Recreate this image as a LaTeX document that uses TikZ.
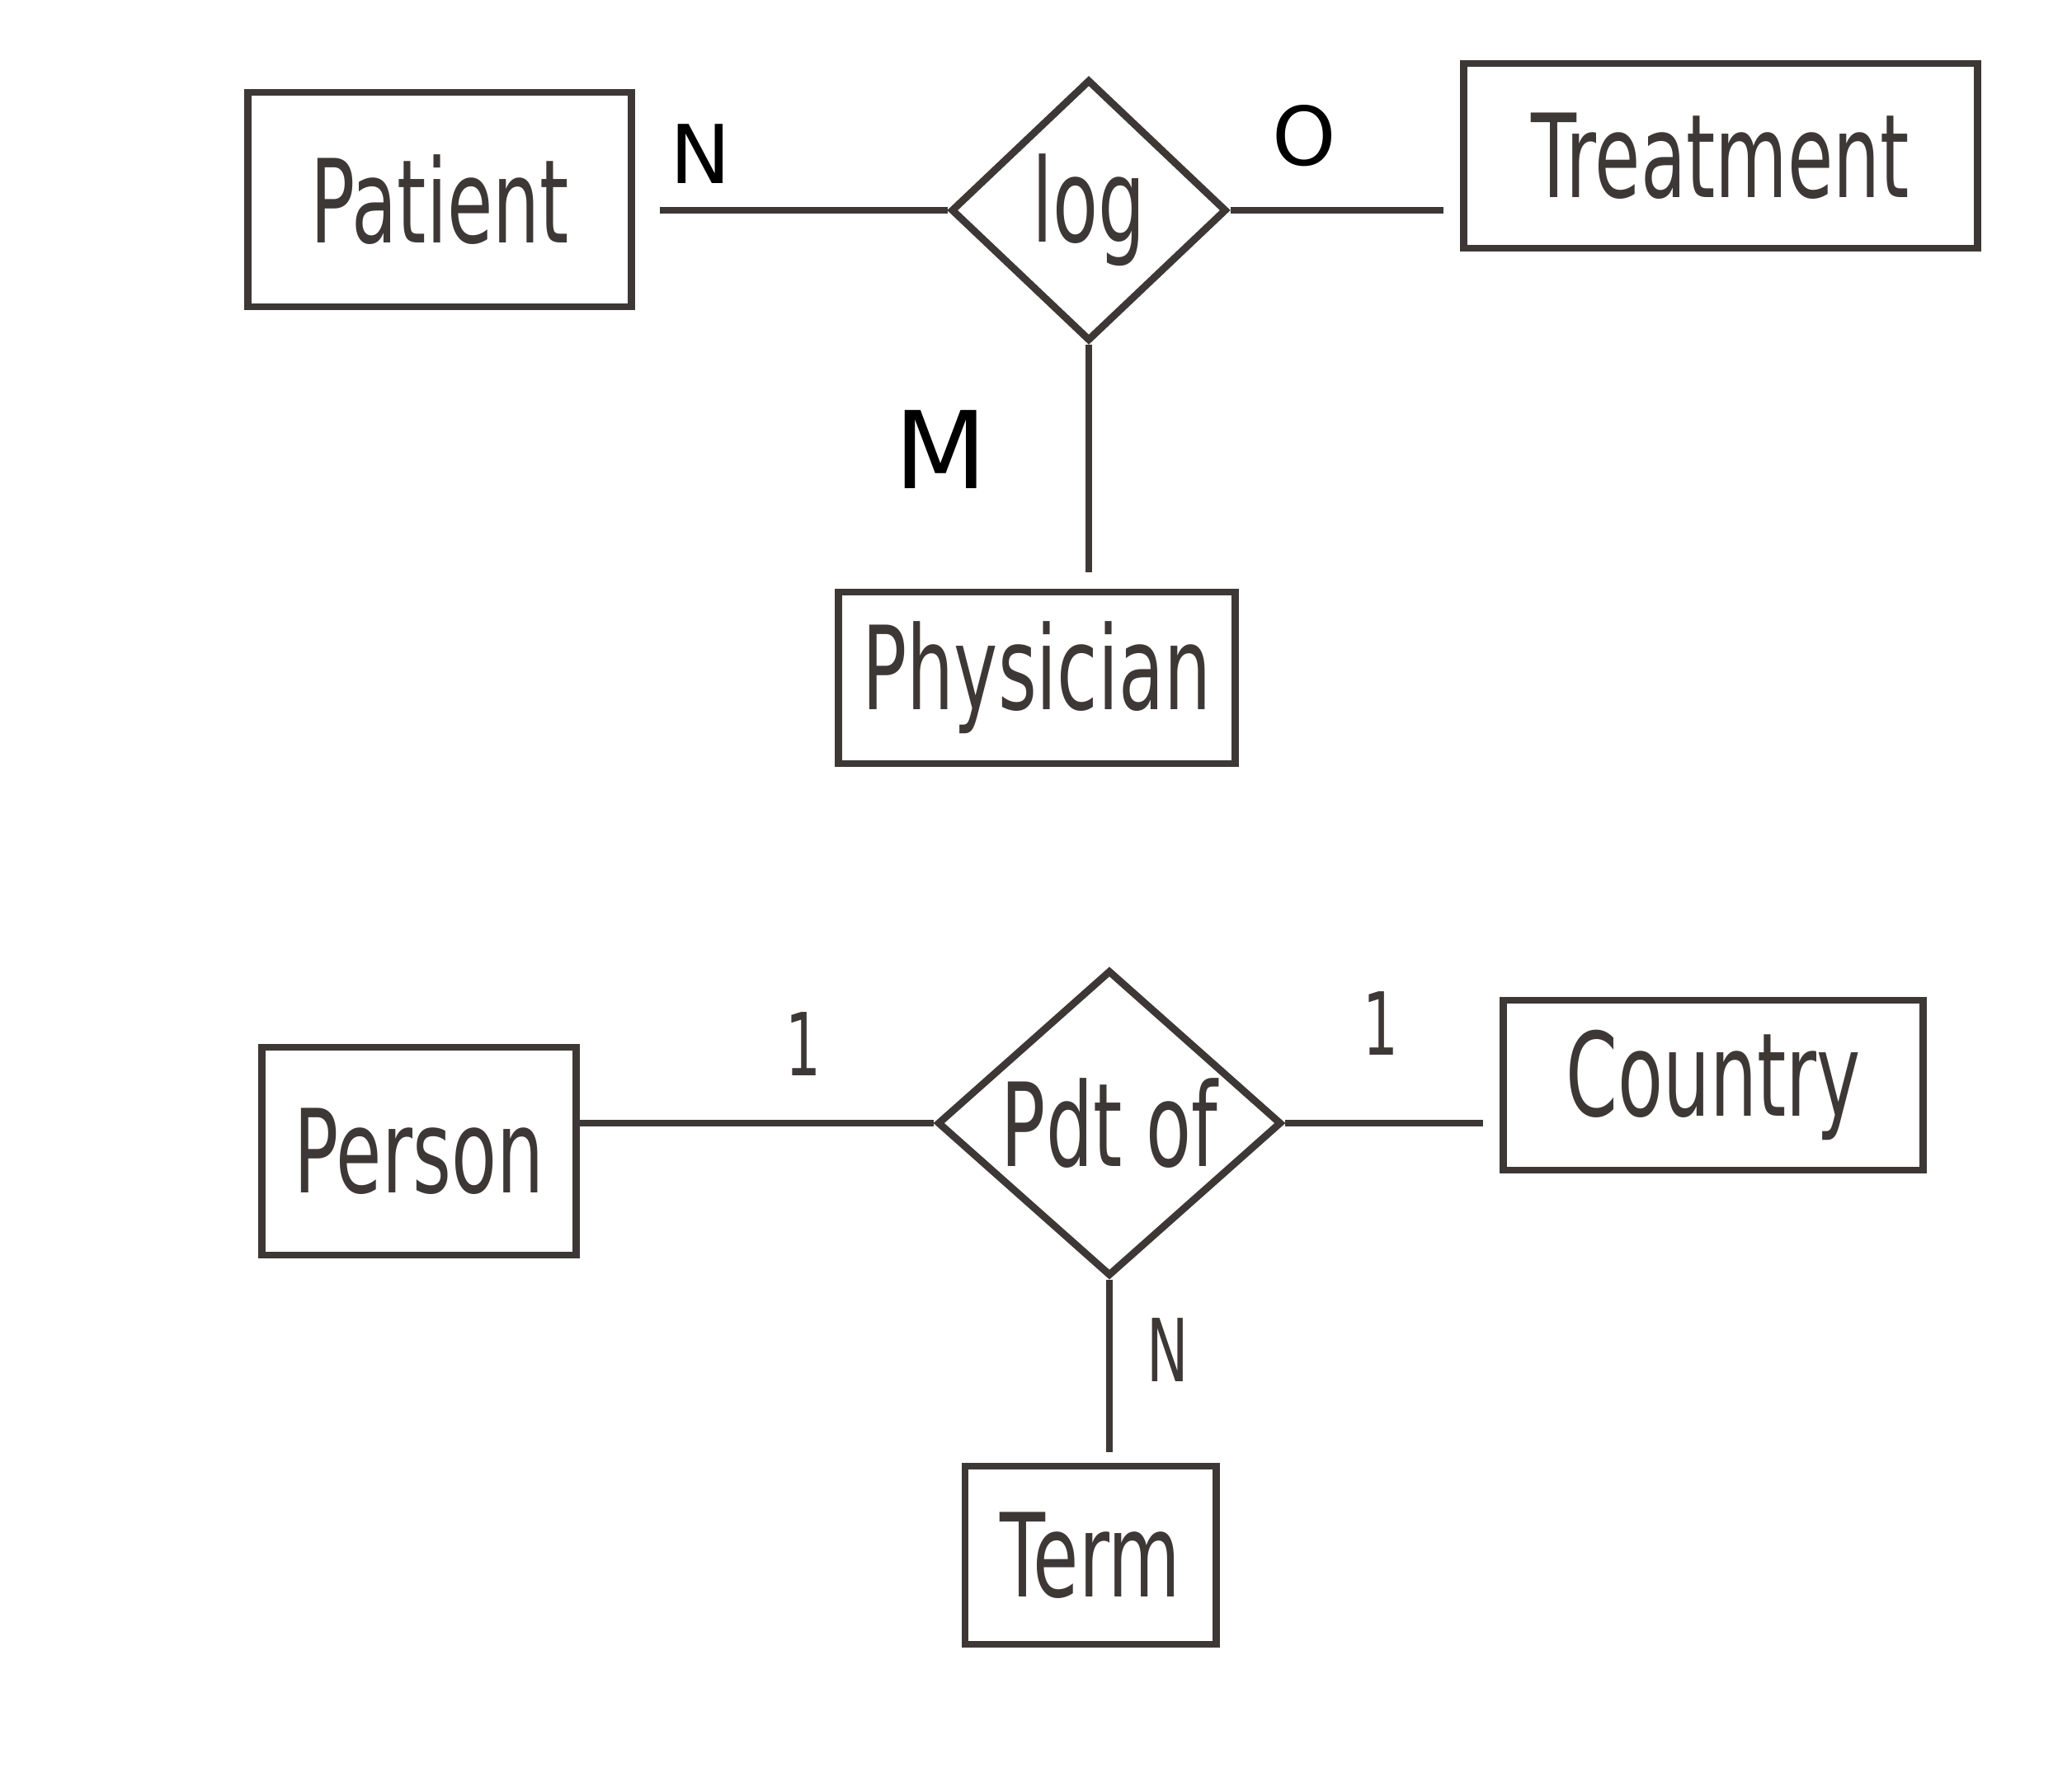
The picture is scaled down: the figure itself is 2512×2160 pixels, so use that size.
\documentclass[tikz,border=0pt]{standalone}
\usepackage{graphicx}
\usepackage{fontspec}
\setmainfont{DejaVu Sans}
\usepackage{tikz}
\usetikzlibrary{shapes.geometric,calc}
\definecolor{pen}{HTML}{3D3836}
\newcommand{\handtext}[1]{\scalebox{0.64}[1]{#1}}

\begin{document}
\begin{tikzpicture}[x=0.01cm, y=-0.01cm,
        entity/.style={draw=pen, line width=2.5pt, inner sep=0pt,
                    font=\fontsize{40}{40}\selectfont, text=pen},
        relation/.style={diamond, draw=pen, line width=2.5pt, inner sep=0pt,
                    font=\fontsize{40}{40}\selectfont, text=pen},
        link/.style={draw=pen, line width=2.5pt},
        card/.style={font=\fontsize{28}{28}\selectfont, text=black},
        handcard/.style={font=\fontsize{30}{30}\selectfont, text=pen},
      ]
        \useasboundingbox[fill=white] (0,0) rectangle (2512,2160);
        % Log relation
        \node[relation, minimum width=3.34cm, minimum height=3.17cm] (log) at (1320,255) {\handtext{log}};
        % Patient
        \node[entity, minimum width=4.65cm, minimum height=2.6cm] (patient) at (533,242) {\handtext{Patient}};
        % Treatment
        \node[entity, minimum width=6.22cm, minimum height=2.24cm] (treat) at (2086,189) {\handtext{Treatment}};
        % Physician
        \node[entity, minimum width=4.81cm, minimum height=2.08cm] (phys) at (1257,822) {\handtext{Physician}};
        % Connectors
        \draw[link, shorten >=0.3cm] (log.west) -- (log.west -| patient.east);
        \draw[link, shorten >=0.2cm] (log.east) -- (log.east -| treat.west);
        \draw[link, shorten >=0.2cm] (log.south) -- (log.south |- phys.north);
        % Cardinalities
        \node[card] (cn) at (849,187) {N};
        \node[card] (co) at (1581,165) {O};
        \node[card, font=\fontsize{37}{37}\selectfont] (cm) at (1141,545) {M};

        % Pdt of relation
        \node[relation, minimum width=4.17cm, minimum height=3.46cm] (pdt) at (1345,1362) {\handtext{Pdt of}};
        % Person
        \node[entity, minimum width=3.81cm, minimum height=2.52cm] (person) at (508,1396) {\handtext{Person}};
        % Country
        \node[entity, minimum width=5.08cm, minimum height=2.06cm] (country) at (2077,1316) {\handtext{Country}};
        % Term
        \node[entity, minimum width=3.04cm, minimum height=2.16cm] (term) at (1322,1886) {\handtext{Term}};
        % Connectors
        \draw[link] (pdt.west) -- (pdt.west -| person.east);
        \draw[link, shorten >=0.2cm] (pdt.east) -- (pdt.east -| country.west);
        \draw[link, shorten >=0.13cm] (pdt.south) -- (pdt.south |- term.north);
        % Cardinalities
        \node[handcard] (c1) at (974,1266) {\handtext{1}};
        \node[handcard] (c2) at (1674,1241) {\handtext{1}};
        \node[handcard] (c3) at (1416,1637) {\handtext{N}};
      \end{tikzpicture}
\end{document}
